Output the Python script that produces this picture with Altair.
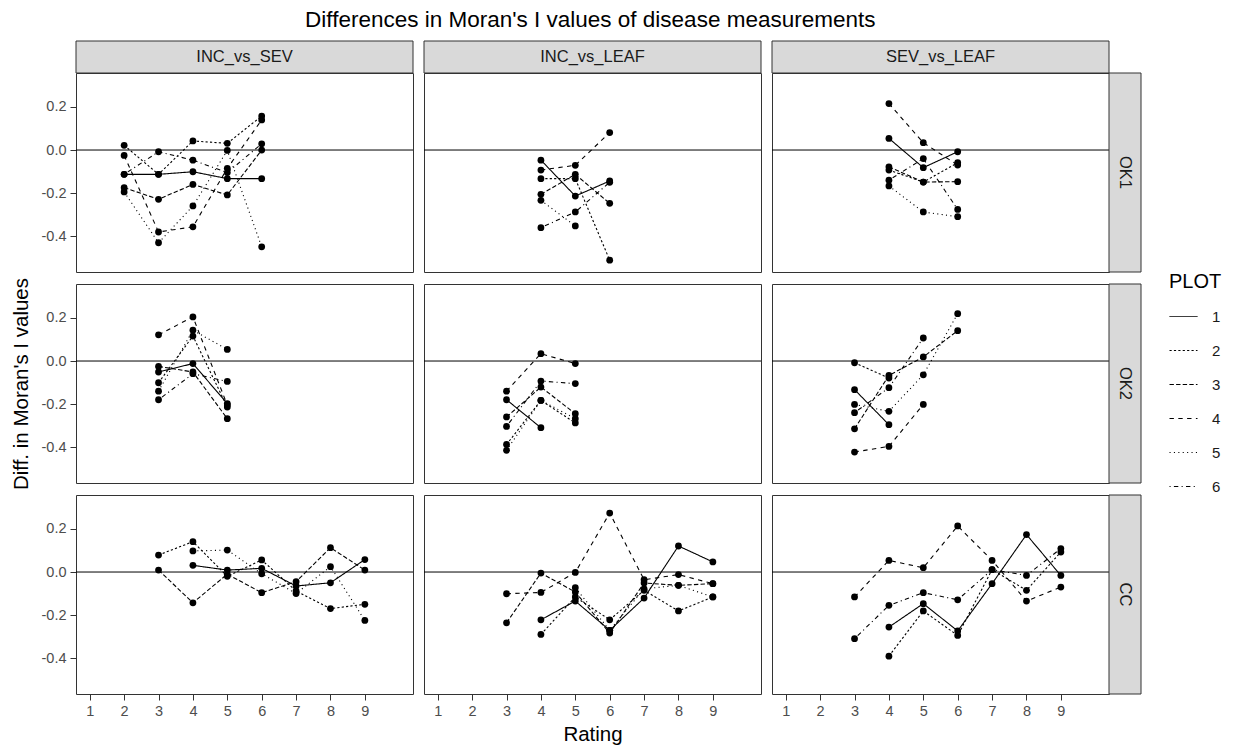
import altair as alt
import pandas as pd

N = None
RATINGS = [1, 2, 3, 4, 5, 6, 7, 8, 9]
PLOTS = ["1", "2", "3", "4", "5", "6"]
ROW_LABELS = ["OK1", "OK2", "CC"]
COL_LABELS = ["INC_vs_SEV", "INC_vs_LEAF", "SEV_vs_LEAF"]
DASHES = [[1, 0], [2.2, 2.2], [4.4, 2.2], [4.4, 4.4], [1.1, 3.3], [1.1, 3.3, 4.4, 3.3]]
Y_TICKS = [-0.4, -0.2, 0.0, 0.2]

# values per PLOT, indexed by Rating 1..9
OK1_INC_vs_SEV = {
    "1": [N, -0.113, -0.113, -0.101, -0.133, -0.133, N, N, N],
    "2": [N, 0.022, -0.113, 0.042, 0.031, 0.158, N, N, N],
    "3": [N, -0.175, -0.229, -0.160, -0.209, 0.000, N, N, N],
    "4": [N, -0.025, -0.381, -0.357, -0.085, 0.140, N, N, N],
    "5": [N, -0.195, -0.431, -0.260, -0.002, -0.450, N, N, N],
    "6": [N, -0.113, -0.008, -0.047, -0.105, 0.029, N, N, N],
}
OK1_INC_vs_LEAF = {
    "1": [N, N, N, -0.047, -0.214, -0.144, N, N, N],
    "2": [N, N, N, -0.133, -0.133, -0.512, N, N, N],
    "3": [N, N, N, -0.206, -0.113, -0.248, N, N, N],
    "4": [N, N, N, -0.093, -0.071, 0.081, N, N, N],
    "5": [N, N, N, -0.234, -0.353, N, N, N, N],
    "6": [N, N, N, -0.361, -0.288, -0.150, N, N, N],
}
OK1_SEV_vs_LEAF = {
    "1": [N, N, N, 0.054, -0.082, -0.008, N, N, N],
    "2": [N, N, N, -0.093, -0.149, -0.059, N, N, N],
    "3": [N, N, N, -0.078, -0.149, -0.147, N, N, N],
    "4": [N, N, N, 0.216, 0.034, -0.070, N, N, N],
    "5": [N, N, N, -0.167, -0.288, -0.310, N, N, N],
    "6": [N, N, N, -0.140, -0.040, -0.276, N, N, N],
}
OK2_INC_vs_SEV = {
    "1": [N, N, -0.051, -0.012, -0.198, N, N, N, N],
    "2": [N, N, -0.101, 0.116, -0.214, N, N, N, N],
    "3": [N, N, -0.025, -0.051, -0.268, N, N, N, N],
    "4": [N, N, 0.122, 0.205, -0.205, N, N, N, N],
    "5": [N, N, -0.140, 0.143, 0.054, N, N, N, N],
    "6": [N, N, -0.180, -0.059, -0.095, N, N, N, N],
}
OK2_INC_vs_LEAF = {
    "1": [N, N, -0.180, -0.310, N, N, N, N, N],
    "2": [N, N, -0.388, -0.183, -0.288, N, N, N, N],
    "3": [N, N, -0.260, -0.121, -0.245, N, N, N, N],
    "4": [N, N, -0.140, 0.034, -0.012, N, N, N, N],
    "5": [N, N, -0.415, -0.183, -0.268, N, N, N, N],
    "6": [N, N, -0.304, -0.093, -0.105, N, N, N, N],
}
OK2_SEV_vs_LEAF = {
    "1": [N, N, -0.133, -0.296, N, N, N, N, N],
    "2": [N, N, -0.008, -0.079, N, N, N, N, N],
    "3": [N, N, -0.315, -0.067, 0.019, 0.141, N, N, N],
    "4": [N, N, -0.423, -0.397, -0.202, N, N, N, N],
    "5": [N, N, -0.202, -0.234, -0.064, 0.220, N, N, N],
    "6": [N, N, -0.240, -0.124, 0.107, N, N, N, N],
}
CC_INC_vs_SEV = {
    "1": [N, N, N, 0.031, 0.009, 0.017, -0.065, -0.050, 0.058],
    "2": [N, N, 0.079, 0.141, -0.020, 0.056, -0.088, -0.170, -0.150],
    "3": [N, N, 0.009, -0.143, -0.010, -0.096, -0.045, 0.113, 0.009],
    "5": [N, N, N, 0.098, 0.102, -0.008, -0.100, 0.025, -0.225],
}
CC_INC_vs_LEAF = {
    "1": [N, N, N, -0.222, -0.135, -0.271, -0.121, 0.121, 0.047],
    "2": [N, N, N, -0.290, -0.116, -0.222, -0.085, -0.181, -0.116],
    "3": [N, N, -0.236, -0.005, -0.093, -0.284, -0.051, -0.062, -0.054],
    "4": [N, N, -0.101, -0.095, -0.002, 0.274, -0.036, -0.012, -0.054],
    "5": [N, N, N, N, -0.073, -0.271, -0.078, -0.062, -0.116],
}
CC_SEV_vs_LEAF = {
    "1": [N, N, N, -0.256, -0.147, -0.274, -0.054, 0.174, -0.016],
    "2": [N, N, N, -0.391, -0.181, -0.295, 0.011, -0.085, 0.093],
    "4": [N, N, -0.116, 0.054, 0.020, 0.214, 0.054, -0.135, -0.070],
    "6": [N, N, -0.310, -0.155, -0.096, -0.129, 0.011, -0.016, 0.109],
}

PANELS = {
    ("OK1", "INC_vs_SEV"): OK1_INC_vs_SEV,
    ("OK1", "INC_vs_LEAF"): OK1_INC_vs_LEAF,
    ("OK1", "SEV_vs_LEAF"): OK1_SEV_vs_LEAF,
    ("OK2", "INC_vs_SEV"): OK2_INC_vs_SEV,
    ("OK2", "INC_vs_LEAF"): OK2_INC_vs_LEAF,
    ("OK2", "SEV_vs_LEAF"): OK2_SEV_vs_LEAF,
    ("CC", "INC_vs_SEV"): CC_INC_vs_SEV,
    ("CC", "INC_vs_LEAF"): CC_INC_vs_LEAF,
    ("CC", "SEV_vs_LEAF"): CC_SEV_vs_LEAF,
}

W, H, STRIP = 337, 199, 32
FONT = "Liberation Sans"


def to_df(series):
    rows = []
    for p in PLOTS:
        vals = series.get(p, [N] * 9)
        for r, v in zip(RATINGS, vals):
            if v is not None:
                rows.append({"Rating": r, "Diff": v, "PLOT": p})
    return pd.DataFrame(rows, columns=["Rating", "Diff", "PLOT"])


x_scale = alt.Scale(domain=[0.6, 10.4], nice=False, zero=False)
y_scale = alt.Scale(domain=[-0.567, 0.358], nice=False, zero=False)
dash_scale = alt.Scale(domain=PLOTS, range=DASHES)
legend = alt.Legend(
    title="PLOT", orient="none", legendX=1093, legendY=199,
    titleFontSize=20, titleFont=FONT, titleFontWeight="normal", titleColor="black",
    labelFontSize=15, labelFont=FONT, labelColor="#1A1A1A",
    symbolType="stroke", symbolSize=784, symbolStrokeWidth=1, symbolStrokeColor="black",
    labelOffset=14, rowPadding=11, titlePadding=10,
)


def panel(ri, ci):
    df = to_df(PANELS[(ROW_LABELS[ri], COL_LABELS[ci])])
    if ri == 2:
        x_axis = alt.Axis(values=RATINGS, format="d", title="Rating", labelFlush=False,
                          titleColor="black" if ci == 1 else "transparent", titlePadding=7)
    else:
        x_axis = None
    if ci == 0:
        y_axis = alt.Axis(values=Y_TICKS,
                          title="Diff. in Moran's I values" if ri == 1 else "D",
                          labelExpr="replace(format(datum.value, '.1f'), '\u2212', '-')",
                          titleColor="black" if ri == 1 else "transparent", titlePadding=10)
    else:
        y_axis = None
    base = alt.Chart(df)
    x = alt.X("Rating:Q", scale=x_scale, axis=x_axis)
    y = alt.Y("Diff:Q", scale=y_scale, axis=y_axis)
    zero = alt.Chart(pd.DataFrame({"Diff": [0.0]})).mark_rule(color="black", strokeWidth=1).encode(y=y)
    lines = base.mark_line(color="black", strokeWidth=1.1).encode(
        x=x, y=y, strokeDash=alt.StrokeDash("PLOT:N", scale=dash_scale, legend=legend)
    )
    pts = base.mark_circle(size=46, color="black", opacity=1).encode(x=x, y=y)
    layers = [zero, lines, pts]
    if ri == 0:
        sdf = pd.DataFrame({"t": [COL_LABELS[ci]]})
        layers.append(alt.Chart(sdf).mark_rect(fill="#D9D9D9", stroke="#333333", strokeWidth=1).encode(
            x=alt.value(0), x2=alt.value(W), y=alt.value(-STRIP), y2=alt.value(0)))
        layers.append(alt.Chart(sdf).mark_text(font=FONT, fontSize=16.5, color="#1A1A1A",
                                               align="center", baseline="middle").encode(
            text="t:N", x=alt.value(W / 2), y=alt.value(-STRIP / 2)))
    if ci == 2:
        sdf = pd.DataFrame({"t": [ROW_LABELS[ri]]})
        layers.append(alt.Chart(sdf).mark_rect(fill="#D9D9D9", stroke="#333333", strokeWidth=1).encode(
            x=alt.value(W), x2=alt.value(W + STRIP), y=alt.value(0), y2=alt.value(H)))
        layers.append(alt.Chart(sdf).mark_text(font=FONT, fontSize=16.5, color="#1A1A1A", angle=90,
                                               align="center", baseline="middle").encode(
            text="t:N", x=alt.value(W + STRIP / 2), y=alt.value(H / 2)))
    return alt.layer(*layers).properties(width=W, height=H)


rows = [alt.hconcat(*[panel(ri, ci) for ci in range(3)], spacing=9) for ri in range(3)]

chart = alt.vconcat(*rows, spacing=3).resolve_scale(strokeDash="shared").properties(
    title=alt.TitleParams("Differences in Moran's I values of disease measurements",
                          fontSize=22.5, font=FONT, fontWeight="normal", anchor="middle",
                          color="black", offset=9, dx=-26),
    padding={"left": 2, "top": 0, "right": 2, "bottom": 2},
).configure_view(stroke="#333333", strokeWidth=1).configure_axis(
    grid=False, domain=False, tickColor="#333333", tickSize=6, labelColor="#4D4D4D",
    labelFontSize=14.5, labelFont=FONT, titleFont=FONT, titleFontSize=20.5,
    titleFontWeight="normal", labelPadding=4,
)

chart.save("out.html", embed_options={"renderer": "svg", "actions": False})
